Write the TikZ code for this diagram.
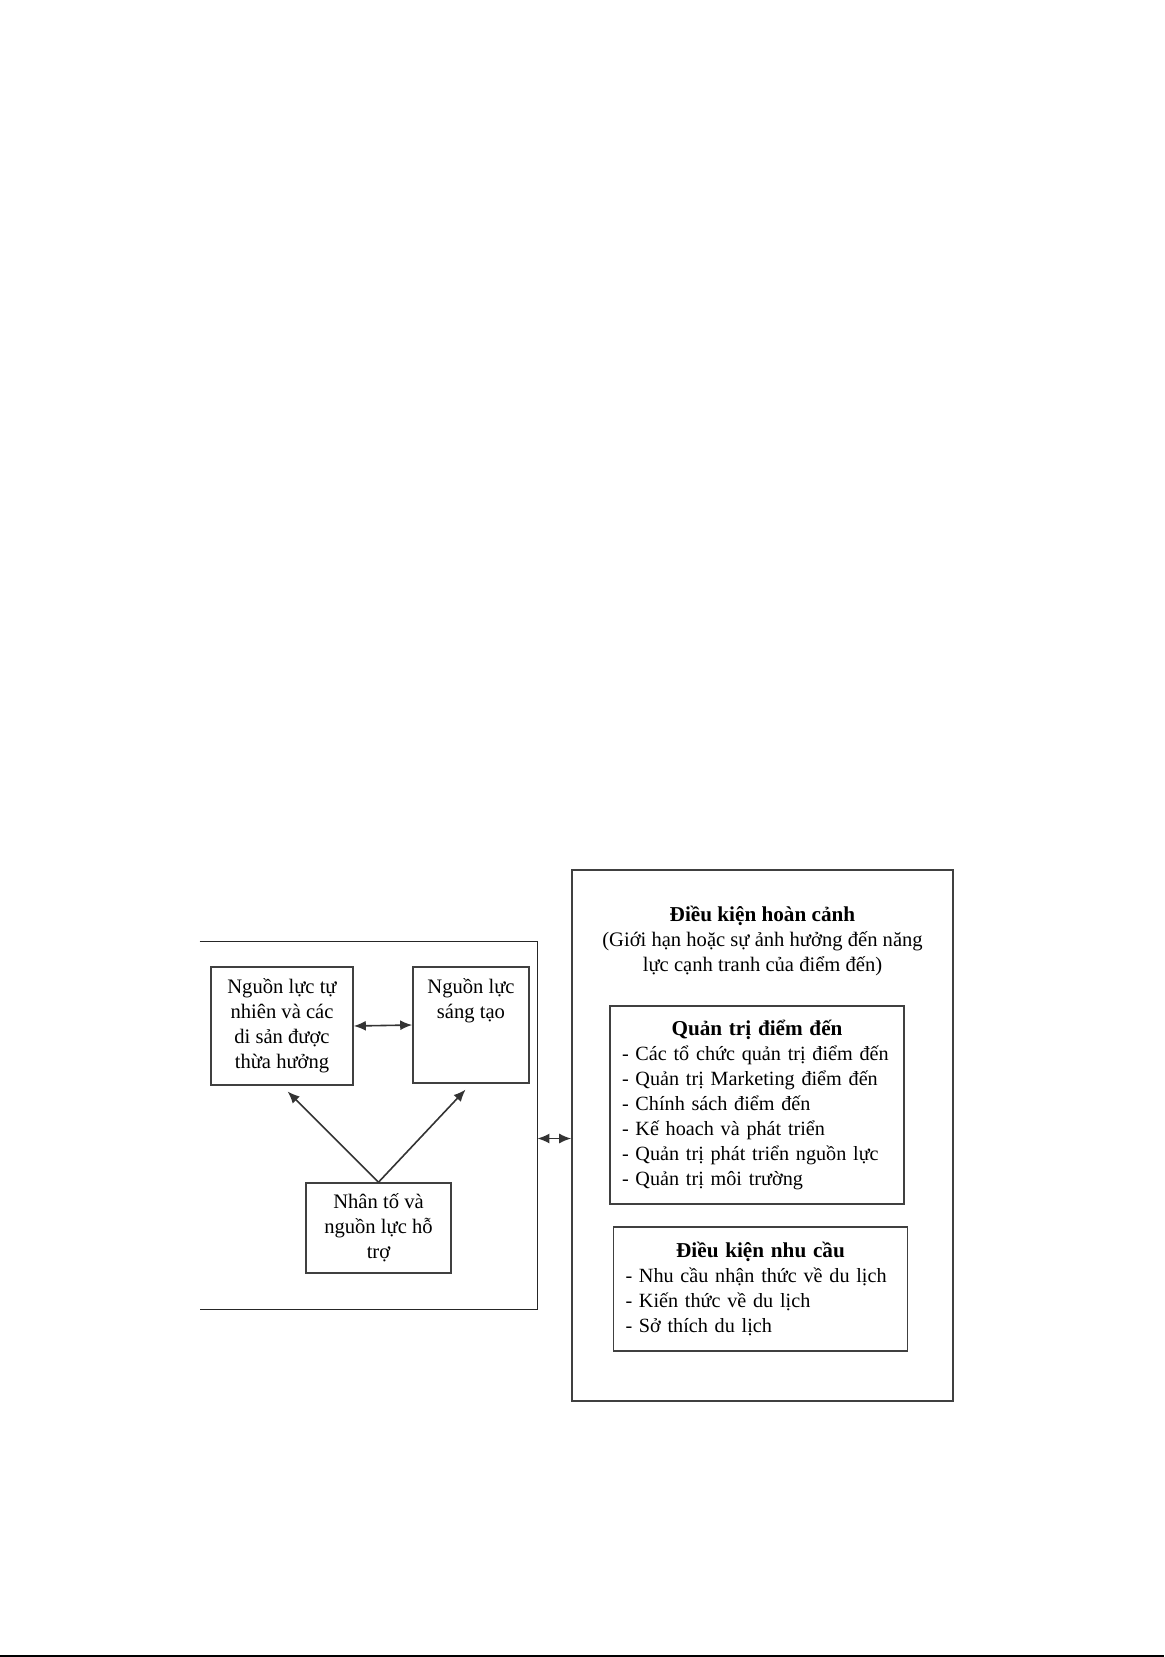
\documentclass[tikz,border=0pt]{standalone}
\usepackage{fontspec}
\setmainfont{Liberation Serif}
\usepackage{tikz}
\usetikzlibrary{positioning,arrows.meta}
\tikzset{
	% The frame of every box
	box_frame/.style={
		draw=black!75,line width=0.8pt,rectangle
	},
	% The small boxes of the resources
	resource/.style={
		box_frame,align=center,inner sep=0pt,font=\fontsize{10.3}{12.5}\selectfont
	},
	% The boxes that hold a list
	list_box/.style={
		box_frame,align=left,text width=135pt,inner xsep=6pt,inner ysep=0pt,font=\fontsize{10.1}{12.5}\selectfont
	},
	% Text without a frame
	plain_text/.style={
		align=center,inner sep=0pt,font=\fontsize{10.3}{12.5}\selectfont
	},
	% Arrows pointing one way
	pointer/.style={
		draw=black!80,line width=0.8pt,-{Latex[length=6pt,width=5pt]}
	},
	% Arrows pointing both ways
	link/.style={
		draw=black!80,line width=0.8pt,{Latex[length=6pt,width=5pt]}-{Latex[length=6pt,width=5pt]}
	},
}
\begin{document}
\begin{tikzpicture}[x=0.5pt,y=-0.5pt]
		\useasboundingbox (0,0) rectangle (1164,1657);

		% Resources
		\node [minimum width=168.5pt,minimum height=183.5pt,inner sep=0pt] (Core) at (368.5,1125.5) {};
		\draw [box_frame,draw=black!85] (Core.north west) -- (Core.north east) -- (Core.south east) -- (Core.south west);
		\node [resource,minimum width=71pt,minimum height=59pt] (Natural) at (282,1026) {Nguồn lực tự\\nhiên và các\\di sản được\\thừa hưởng};
		\node [resource,minimum width=58pt,minimum height=58pt] (Creative) at (471,1025) {};
		\node [plain_text,below=6pt of Creative.north] (Creative text) {Nguồn lực\\sáng tạo};
		\node [resource,minimum width=72.5pt,minimum height=45pt] (Supporting) at (378.5,1228) {Nhân tố và\\nguồn lực hỗ\\trợ};

		% Conditions
		\node [box_frame,minimum width=190.5pt,minimum height=265.5pt,inner sep=0pt] (Context) at (762.5,1135.5) {};
		\node [plain_text,below=18pt of Context.north] (Context title) {\textbf{\fontsize{10.6}{12.5}\selectfont Điều kiện hoàn cảnh}\\(Giới hạn hoặc sự ảnh hưởng đến năng\\lực cạnh tranh của điểm đến)};
		\node [list_box,minimum height=99pt] (Management) at (757,1105) {\makebox[135pt]{\textbf{\fontsize{10.6}{12.5}\selectfont Quản trị điểm đến}}\\- Các tổ chức quản trị điểm đến\\- Quản trị Marketing điểm đến\\- Chính sách điểm đến\\- Kế hoach và phát triển\\- Quản trị phát triển nguồn lực\\- Quản trị môi trường};
		\node [list_box,minimum height=62pt] (Demand) at (760.5,1289) {\makebox[135pt]{\textbf{\fontsize{10.6}{12.5}\selectfont Điều kiện nhu cầu}}\\- Nhu cầu nhận thức về du lịch\\- Kiến thức về du lịch\\- Sở thích du lịch};

		\draw [link] (Natural.east) -- (Creative.west);
		\draw [pointer,shorten >=4pt] (Supporting.north) -- (Natural.south);
		\draw [pointer,shorten >=4pt] (Supporting.north) -- (Creative.south);
		\draw [link] ([yshift=-1.5pt]Context.west -| Core.east) -- ([yshift=-1.5pt]Context.west);

		% Page edge
		\draw [line width=1pt] (0,1656) -- (1164,1656);
	\end{tikzpicture}
\end{document}
